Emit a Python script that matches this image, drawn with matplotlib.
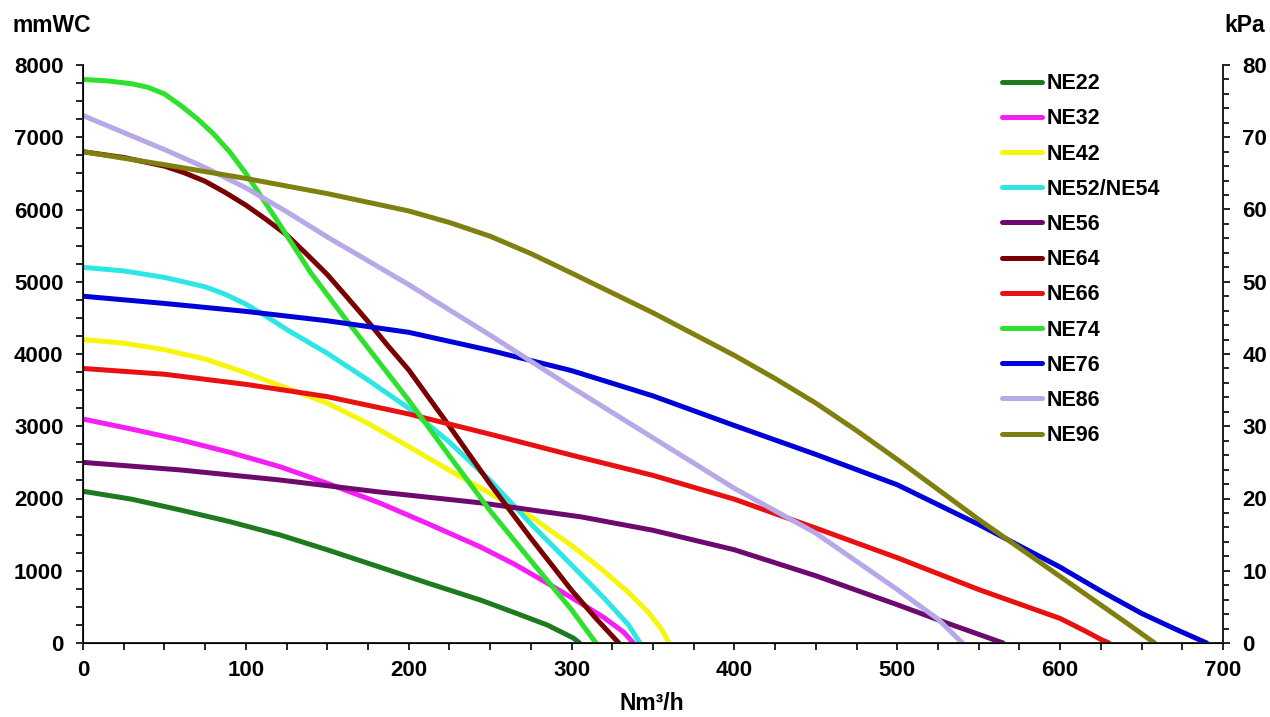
import matplotlib
matplotlib.use("Agg")
import matplotlib.pyplot as plt
from matplotlib.ticker import MultipleLocator

plt.rcParams['font.family'] = ['Liberation Sans', 'DejaVu Sans']
plt.rcParams['font.weight'] = 'bold'

# flow (Nm3/h) and pressure (mmWC)
ne22_x = [0, 30, 60, 90, 121, 150, 182, 213, 244, 265, 285, 301, 305]
ne22_y = [2100, 1990, 1840, 1680, 1495, 1290, 1052, 820, 595, 420, 250, 70, 0]

ne32_x = [0, 30, 60, 90, 121, 150, 182, 213, 244, 265, 285, 305, 320, 332, 338]
ne32_y = [3100, 2960, 2810, 2640, 2440, 2210, 1940, 1640, 1330, 1090, 830, 560, 350, 150, 0]

ne42_x = [0, 25, 50, 75, 100, 125, 150, 175, 200, 225, 250, 275, 300, 317, 335, 347, 355, 360]
ne42_y = [4200, 4150, 4060, 3930, 3740, 3530, 3320, 3040, 2720, 2390, 2070, 1750, 1350, 1050, 700, 430, 200, 0]

ne52_x = [0, 25, 50, 75, 87, 100, 112, 125, 150, 175, 200, 225, 250, 275, 300, 320, 335, 342]
ne52_y = [5200, 5150, 5060, 4930, 4830, 4690, 4530, 4340, 4010, 3640, 3250, 2780, 2250, 1650, 1080, 620, 250, 0]

ne56_x = [0, 60, 121, 182, 244, 306, 350, 400, 450, 500, 530, 550, 565]
ne56_y = [2500, 2395, 2256, 2090, 1940, 1745, 1560, 1290, 930, 530, 280, 120, 0]

ne64_x = [0, 25, 50, 62, 75, 87, 100, 112, 125, 137, 150, 162, 175, 187, 200, 225, 250, 275, 300, 315, 329]
ne64_y = [6800, 6720, 6600, 6510, 6390, 6240, 6060, 5870, 5650, 5390, 5100, 4790, 4450, 4120, 3780, 3000, 2200, 1450, 730, 340, 0]

ne66_x = [0, 50, 100, 150, 200, 250, 300, 350, 400, 450, 500, 550, 580, 600, 615, 625, 630]
ne66_y = [3800, 3720, 3580, 3410, 3170, 2890, 2600, 2320, 1990, 1590, 1180, 740, 500, 340, 170, 50, 0]

ne74_x = [0, 15, 30, 40, 50, 60, 70, 80, 90, 100, 120, 140, 160, 180, 200, 225, 250, 275, 300, 315]
ne74_y = [7800, 7780, 7740, 7690, 7600, 7440, 7260, 7050, 6800, 6500, 5820, 5120, 4520, 3940, 3360, 2590, 1830, 1140, 460, 0]

ne76_x = [0, 50, 100, 150, 200, 250, 300, 350, 400, 450, 500, 550, 600, 625, 650, 670, 690]
ne76_y = [4800, 4700, 4590, 4460, 4300, 4050, 3770, 3420, 3010, 2610, 2190, 1640, 1050, 720, 410, 200, 0]

ne86_x = [0, 50, 75, 100, 125, 150, 200, 250, 300, 350, 400, 450, 500, 525, 540]
ne86_y = [7300, 6830, 6580, 6300, 5970, 5620, 4960, 4260, 3540, 2840, 2140, 1520, 740, 330, 0]

ne96_x = [0, 50, 100, 150, 200, 225, 250, 275, 300, 350, 400, 425, 450, 475, 500, 550, 600, 640, 658]
ne96_y = [6800, 6620, 6430, 6220, 5980, 5820, 5630, 5390, 5120, 4570, 3980, 3660, 3320, 2940, 2540, 1710, 920, 290, 0]

series = [
    ("NE22", ne22_x, ne22_y, "#1f7a1f"),
    ("NE32", ne32_x, ne32_y, "#f51ef5"),
    ("NE42", ne42_x, ne42_y, "#f7f50c"),
    ("NE52/NE54", ne52_x, ne52_y, "#2ee6e6"),
    ("NE56", ne56_x, ne56_y, "#6e0a6e"),
    ("NE64", ne64_x, ne64_y, "#7a0000"),
    ("NE66", ne66_x, ne66_y, "#e81010"),
    ("NE74", ne74_x, ne74_y, "#2de12d"),
    ("NE76", ne76_x, ne76_y, "#0000d8"),
    ("NE86", ne86_x, ne86_y, "#b8a8e8"),
    ("NE96", ne96_x, ne96_y, "#808010"),
]

fig = plt.figure(figsize=(12.7, 7.17), dpi=100)
ax = fig.add_axes([83 / 1270, 74 / 717, 1140 / 1270, 578 / 717])

for name, xs, ys, col in series:
    ax.plot(xs, ys, color=col, lw=3.6, label=name, solid_joinstyle='round', solid_capstyle='round')

ax.set_xlim(0, 700)
ax.set_ylim(0, 8000)
ax.xaxis.set_major_locator(MultipleLocator(100))
ax.xaxis.set_minor_locator(MultipleLocator(25))
ax.yaxis.set_major_locator(MultipleLocator(1000))
ax.yaxis.set_minor_locator(MultipleLocator(250))

for side in ['left', 'bottom', 'right']:
    ax.spines[side].set_linewidth(1.4)
    ax.spines[side].set_color('#222222')
ax.spines['top'].set_visible(False)

ax.tick_params(axis='y', which='major', length=5, width=1.2, pad=9, labelsize=16)
ax.tick_params(axis='y', which='minor', length=5, width=1.2)
ax.tick_params(axis='x', which='major', length=5, width=1.2, pad=7, labelsize=16)
ax.tick_params(axis='x', which='minor', length=5, width=1.2)

# kPa scale on the right
ax2 = ax.twinx()
ax2.set_ylim(0, 80)
ax2.yaxis.set_major_locator(MultipleLocator(10))
ax2.yaxis.set_minor_locator(MultipleLocator(2))
ax2.spines['top'].set_visible(False)
ax2.spines['right'].set_linewidth(1.4)
ax2.spines['right'].set_color('#222222')
ax2.tick_params(axis='y', which='major', length=5, width=1.2, pad=9, labelsize=16)
ax2.tick_params(axis='y', which='minor', length=4, width=1.2)

for lab in ax.get_xticklabels() + ax.get_yticklabels() + ax2.get_yticklabels():
    lab.set_fontweight('bold')

leg = ax.legend(loc='upper left', bbox_to_anchor=(0.806, 0.986), frameon=False,
                fontsize=15.5, handlelength=1.85, handletextpad=0.25, labelspacing=0.66,
                borderaxespad=0, borderpad=0)
for t in leg.get_texts():
    t.set_fontweight('bold')

fig.text(13 / 1270, 1 - 25 / 717, "mmWC", ha='left', va='center', fontsize=16.5, fontweight='bold')
fig.text(1265 / 1270, 1 - 25 / 717, "kPa", ha='right', va='center', fontsize=16.5, fontweight='bold')
fig.text(652 / 1270, 1 - 703 / 717, "Nm³/h", ha='center', va='center', fontsize=16.5, fontweight='bold')

fig.savefig("out.png", dpi=100)
